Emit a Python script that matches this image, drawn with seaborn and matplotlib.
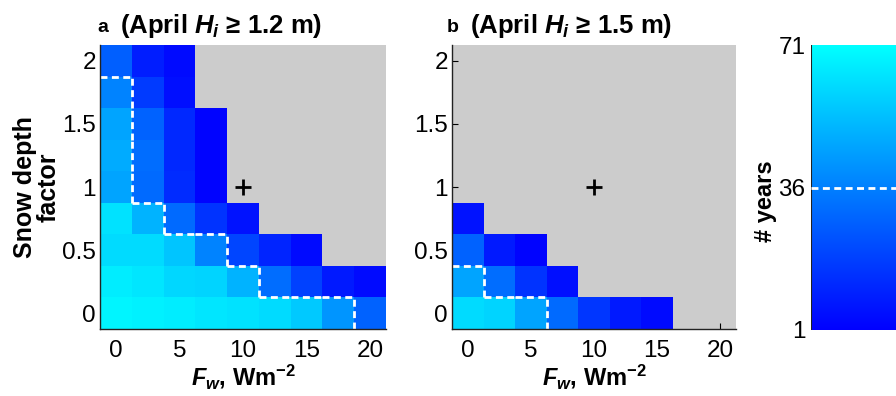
import numpy as np
import pandas as pd
import matplotlib
matplotlib.use("Agg")
import matplotlib.pyplot as plt
import seaborn as sns
from matplotlib.colors import LinearSegmentedColormap

sns.set_style("white")
plt.rcParams['font.family'] = ['Liberation Sans', 'DejaVu Sans']
plt.rcParams['mathtext.fontset'] = 'custom'
plt.rcParams['mathtext.rm'] = 'Liberation Sans:bold'
plt.rcParams['mathtext.it'] = 'Liberation Sans:bold:italic'
plt.rcParams['mathtext.bf'] = 'Liberation Sans:bold'
plt.rcParams['text.color'] = 'black'
plt.rcParams['axes.labelcolor'] = 'black'
plt.rcParams['xtick.color'] = 'black'
plt.rcParams['ytick.color'] = 'black'

# ---- data ----
fw = [0, 2.5, 5, 7.5, 10, 12.5, 15, 17.5, 20]          # W m-2
snow = [0, 0.25, 0.5, 0.75, 1.0, 1.25, 1.5, 1.75, 2.0]  # snow depth factor
nan = np.nan
# rows: snow factor 0 -> 2 ; columns: Fw 0 -> 20
years_a = [
    [68, 67, 66, 64, 63, 61, 56, 42, 28],
    [66, 64, 60, 59, 50, 31, 19, 8, 4],
    [61, 61, 55, 37, 20, 11, 4, nan, nan],
    [63, 50, 30, 15, 6, nan, nan, nan, nan],
    [46, 30, 13, 2, nan, nan, nan, nan, nan],
    [48, 31, 12, 2, nan, nan, nan, nan, nan],
    [46, 28, 12, 2, nan, nan, nan, nan, nan],
    [37, 17, 5, nan, nan, nan, nan, nan, nan],
    [27, 9, 4, nan, nan, nan, nan, nan, nan],
]
years_b = [
    [61, 59, 46, 30, 16, 8, 4, nan, nan],
    [46, 31, 15, 5, nan, nan, nan, nan, nan],
    [28, 8, 2, nan, nan, nan, nan, nan, nan],
    [6, nan, nan, nan, nan, nan, nan, nan, nan],
    [nan] * 9, [nan] * 9, [nan] * 9, [nan] * 9, [nan] * 9,
]
titles = ["(April $H_i$ \u2265 1.2 m)", "(April $H_i$ \u2265 1.5 m)"]
letters = ["a", "b"]
threshold = 36
cbar_ticks = [1, 36, 71]
x_ticks = [0, 5, 10, 15, 20]
y_ticks = [0, 0.5, 1, 1.5, 2]
ref_point = (10, 1.0)

cmap = LinearSegmentedColormap.from_list("bc", [(0, 0, 1), (0, 1, 1)])
W, H = 896, 396
fig = plt.figure(figsize=(W / 100, H / 100), dpi=100)

def fx(px):
    return px / W

def fy(py):
    return 1 - py / H

ax_a = fig.add_axes([fx(100), fy(329), fx(386) - fx(100), fy(45) - fy(329)])
ax_b = fig.add_axes([fx(452), fy(329), fx(736) - fx(452), fy(45) - fy(329)])
cax = fig.add_axes([fx(811), fy(330), 0.12, fy(45) - fy(330)])

def idx_x(v):
    return np.interp(v, fw, np.arange(len(fw))) + 0.5

def idx_y(v):
    return np.interp(v, snow, np.arange(len(snow))) + 0.5

for k, (ax, data) in enumerate([(ax_a, years_a), (ax_b, years_b)]):
    df = pd.DataFrame(data, index=snow, columns=fw)
    sns.heatmap(df, ax=ax, cmap=cmap, vmin=1, vmax=71, cbar=(k == 0),
                cbar_ax=cax if k == 0 else None, square=False,
                linewidths=0, xticklabels=False, yticklabels=False)
    ax.invert_yaxis()
    ax.set_facecolor("#cccccc")
    # threshold boundary along cell edges
    arr = np.array(data, dtype=float)
    inside = np.nan_to_num(arr, nan=-1) >= threshold
    ny, nx = arr.shape
    segs = []
    for i in range(ny):
        for j in range(nx):
            if not inside[i, j]:
                continue
            if j + 1 < nx and not inside[i, j + 1]:
                segs.append(([j + 1, j + 1], [i, i + 1]))
            if j - 1 >= 0 and not inside[i, j - 1]:
                segs.append(([j, j], [i, i + 1]))
            if i + 1 < ny and not inside[i + 1, j]:
                segs.append(([j, j + 1], [i + 1, i + 1]))
            if i - 1 >= 0 and not inside[i - 1, j]:
                segs.append(([j, j + 1], [i, i]))
    for xs, ys in segs:
        ax.plot(xs, ys, color="white", lw=2, ls=(0, (2.5, 1.6)),
                solid_capstyle="butt", dash_capstyle="butt")
    # reference point
    ax.plot(idx_x(ref_point[0]), idx_y(ref_point[1]), marker="+", ms=12,
            mew=2, color="black")
    ax.set_xticks([idx_x(v) for v in x_ticks])
    ax.set_xticklabels([str(v) for v in x_ticks], fontsize=17.5, rotation=0)
    ax.set_yticks([idx_y(v) for v in y_ticks])
    ax.set_yticklabels([f"{v:g}" for v in y_ticks], fontsize=17.5, rotation=0)
    ax.tick_params(direction="in", length=4, width=0.8, colors="black",
                   left=True, bottom=True)
    ax.tick_params(axis="x", pad=8)
    ax.tick_params(axis="y", pad=3)
    for s in ["left", "bottom"]:
        ax.spines[s].set_visible(True)
        ax.spines[s].set_color("#222222")
        ax.spines[s].set_linewidth(1.0)
    for s in ["top", "right"]:
        ax.spines[s].set_visible(False)
    ax.set_xlabel("$F_w$, Wm$^{-2}$", fontsize=17, fontweight="bold",
                  labelpad=0, color="black")
    ax.set_ylabel("")

ax_a.set_ylabel("Snow depth\nfactor", fontsize=18, fontweight="bold",
                linespacing=0.95, color="black")
ax_a.yaxis.set_label_coords(-0.138, 0.5)

# titles
fig.text(fx(97), fy(28), letters[0], fontsize=14, fontweight="bold", va="center", ha="left", color="black")
fig.text(fx(120), fy(26), titles[0], fontsize=18.5, fontweight="bold", va="center", ha="left", color="black")
fig.text(fx(447), fy(28), letters[1], fontsize=14, fontweight="bold", va="center", ha="left", color="black")
fig.text(fx(470), fy(26), titles[1], fontsize=18.5, fontweight="bold", va="center", ha="left", color="black")

# colorbar
cb = ax_a.collections[0].colorbar
cb.set_ticks(cbar_ticks)
cb.set_ticklabels([str(t) for t in cbar_ticks])
cax.yaxis.set_ticks_position("left")
cax.yaxis.set_label_position("left")
cax.tick_params(labelsize=17.5, length=0, pad=4, colors="black")
cb.outline.set_visible(False)
cax.axvline(cax.get_xlim()[0], color="#222222", lw=1.5)
cax.axhline(threshold, color="white", lw=2, ls=(0, (2.5, 1.6)))
cb.set_label("# years", fontsize=17, fontweight="bold", color="black")
cax.yaxis.set_label_coords(-0.316, 0.453)

fig.savefig("out.png", dpi=100)
